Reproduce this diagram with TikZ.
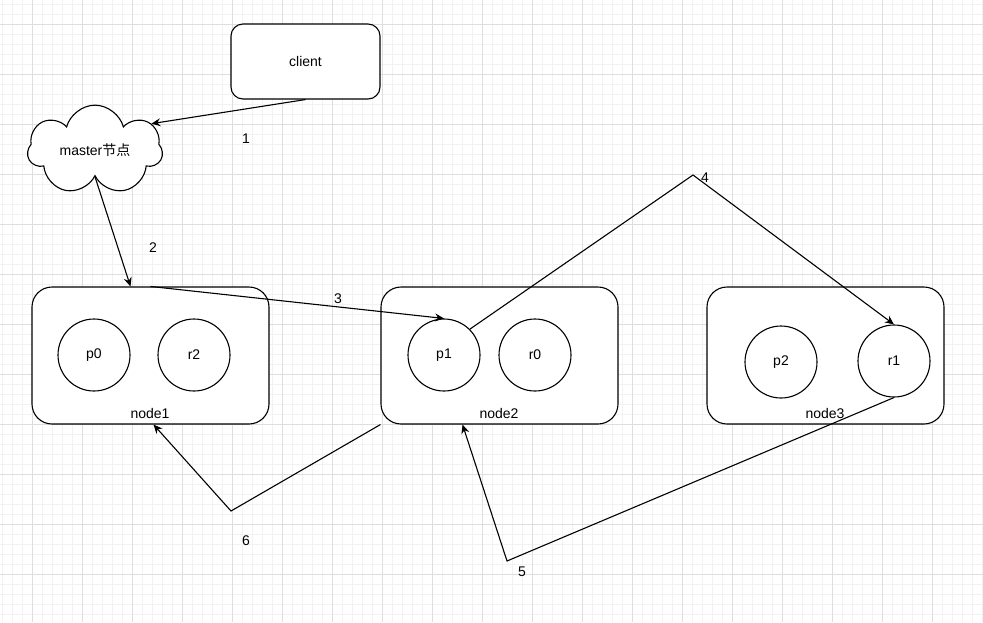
\documentclass[tikz,border=0pt]{standalone}
\usepackage{fontspec}
\setmainfont{Liberation Sans}
\newfontfamily\cjk{Noto Sans CJK SC}
\usetikzlibrary{positioning,arrows.meta,shapes.symbols}
\definecolor{gridmajor}{RGB}{222,222,222}
\definecolor{gridminor}{RGB}{242,242,242}
\tikzset{>={Stealth[length=9pt,width=8pt,inset=3pt]}}

\begin{document}
\begin{tikzpicture}[x=1pt,y=-1pt]
    \fontsize{14pt}{16pt}\selectfont
    \tikzset{
    box/.style={draw, fill=white, line width=1.1pt, rounded corners=20pt, minimum width=237pt, minimum height=137pt},
    part/.style={draw, fill=white, circle, line width=1.1pt, minimum size=72pt, inner sep=0pt},
    num/.style={inner sep=0pt},
    link/.style={line width=1.1pt},
    }

    \useasboundingbox (0,0) rectangle (983,622);
    \fill [white] (0,0) rectangle (983,622);

    % Grid.
    \foreach \x in {2,12,...,982} \draw [gridminor] (\x,0) -- (\x,622);
    \foreach \y in {4,14,...,614} \draw [gridminor] (0,\y) -- (983,\y);
    \foreach \x in {32,82,...,932} \draw [gridmajor] (\x,0) -- (\x,622);
    \foreach \y in {24,74,...,574} \draw [gridmajor] (0,\y) -- (983,\y);

    % Client and master.
    \node [draw, fill=white, line width=1.1pt, rounded corners=12pt, minimum width=149pt, minimum height=75pt] (client) at (305.5,61.5) {client};
    \node [draw, fill=white, line width=1.1pt, cloud, cloud puffs=7, aspect=1.6, minimum width=135pt, minimum height=84pt, inner sep=0pt] (master) at (95,150) {master{\cjk 节点}};

    % Storage nodes.
    \node [box] (node1) at (150.5,355.5) {};
    \node [box] (node2) at (499.5,355.5) {};
    \node [box] (node3) at (825.5,355.5) {};
    \node [anchor=base] (lab1) at (150,418) {node1};
    \node [anchor=base] (lab2) at (499,418) {node2};
    \node [anchor=base] (lab3) at (825,418) {node3};

    % Partitions and replicas.
    \node [part] (p0) at (94,355) {p0};
    \node [part] (r2) at (194,355) {r2};
    \node [part] (p1) at (444,355) {p1};
    \node [part] (r0) at (535,355) {r0};
    \node [part] (p2) at (781,362) {p2};
    \node [part] (r1) at (894,361) {r1};

    % Bend points.
    \coordinate (b4) at (693,175);
    \coordinate (b5) at (507,561);
    \coordinate (b6) at (231,511);

    % Connections.
    \draw [link, ->] (client.south) -- (master.25);
    \draw [link, ->] (master.south) -- ([xshift=-20pt]node1.north);
    \draw [link, ->] (node1.north) -- (p1.north);
    \draw [link, ->] (p1.45) -- (b4) -- (r1.north);
    \draw [link, ->] (r1.south) -- (b5) -- ([xshift=-37pt]node2.south);
    \draw [link, ->] (node2.south west) -- (b6) -- ([xshift=3pt]node1.south);

    % Step numbers.
    \node [num] (s1) at (246,139) {1};
    \node [num] (s2) at (153,248) {2};
    \node [num] (s3) at (338,299) {3};
    \node [num] (s4) at (705,178) {4};
    \node [num] (s5) at (522,572) {5};
    \node [num] (s6) at (246,541) {6};
\end{tikzpicture}
\end{document}
